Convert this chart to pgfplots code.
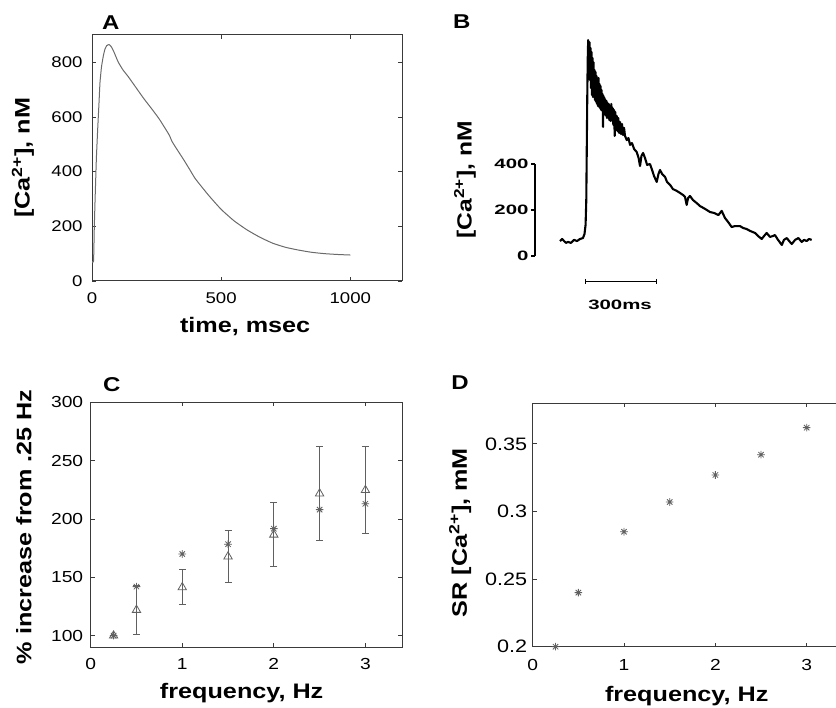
\documentclass[border=0pt]{standalone}
\usepackage{fontspec}
\setmainfont{Liberation Sans}[FakeStretch=1.2]
\newfontfamily\bfam{Liberation Sans}[FakeStretch=1.5]
\usepackage{pgfplots}
\pgfplotsset{compat=1.18}
\usepackage{pgfplotstable}

\definecolor{axgray}{HTML}{3A3A3A}
\definecolor{curvegray}{HTML}{6A6A6A}
\definecolor{markgray}{HTML}{606060}
\newcommand{\fs}[1]{\fontsize{#1bp}{#1bp}\selectfont}

\pgfdeclareplotmark{mstar}{%
  \pgfpathmoveto{\pgfqpoint{-\pgfplotmarksize}{0pt}}%
  \pgfpathlineto{\pgfqpoint{\pgfplotmarksize}{0pt}}%
  \pgfpathmoveto{\pgfqpoint{0pt}{-\pgfplotmarksize}}%
  \pgfpathlineto{\pgfqpoint{0pt}{\pgfplotmarksize}}%
  \pgfpathmoveto{\pgfqpoint{-0.707\pgfplotmarksize}{-0.707\pgfplotmarksize}}%
  \pgfpathlineto{\pgfqpoint{0.707\pgfplotmarksize}{0.707\pgfplotmarksize}}%
  \pgfpathmoveto{\pgfqpoint{-0.707\pgfplotmarksize}{0.707\pgfplotmarksize}}%
  \pgfpathlineto{\pgfqpoint{0.707\pgfplotmarksize}{-0.707\pgfplotmarksize}}%
  \pgfusepathqstroke}

\pgfplotstableread{
t ca
0 72
6 72
9 200
12 300
17 450
22 555
27 650
31 727
37 785
44 824
50 848
57 861
66 865
74 858
83 842
92 822
102 800
120 772
140 748
167 712
200 668
231 630
260 593
290 548
300 532
310 510
330 480
354 445
380 405
400 374
450 315
500 262
550 220
600 187
650 160
700 138
750 123
800 113
850 105
900 100
950 97
1000 95
}\modelA

\pgfplotstableread{
t ca
0 65
8.5 74
17 65
25 57
34 61
46 57
59 70
72 65
84.5 74
97 78
103.5 96
108 135
111 243
113 461
115 678
117 852
119 939
122.5 809
124.6 930
126.8 765
129 904
131 730
133.1 887
135.2 700
137.3 861
139.4 691
141.5 843
143.7 713
145.8 809
147.9 678
150 800
152 670
154.2 783
156.3 661
158.4 765
160.6 652
162.7 774
164.8 648
166.9 748
169 643
171.1 739
173.2 635
175.3 722
177.5 643
179.6 704
181.7 561
183.8 696
185.9 626
188 687
190.1 617
192.3 678
194.4 609
196.5 674
198.6 600
200.7 665
202.8 604
205.8 661
208.3 591
211.3 652
214.2 587
216.8 661
219.7 600
222.7 643
225.2 570
228.2 635
231.1 522
233.7 626
236.6 548
239.6 609
242.9 543
246.3 600
249.3 535
253.5 583
257.7 530
262 574
266 526
270.4 557
274.6 522
282 504
289 513
296 483
304 491
313 465
324 452
332 426
338 391
344 435
351 448
359 426
368 396
380 400
389 374
397 348
408.5 322
416 357
422.5 374
431 357
444 343
452 322
465 309
477 291
493 283
507 274
520 265
528 257
535 222
541 252
549 261
562 243
577.5 230
591.5 217
605.5 209
620 200
634 191
651 187
669 178
683 196
697 165
710 148
725 126
739 130
760.5 130
773 122
789 117
803 109
824 100
836.5 87
852 74
862 87
873 100
887 83
900 87
908 91
921 70
937 48
946 70
958 78
968 65
979 52
993 70
1007 78
1021 61
1031 70
1042 65
1052 74
1063 70
}\exptB

\pgfplotstableread{
f y
0.25 100
0.5 142
1 170
1.5 178.4
2 191.7
2.5 208
3 213
}\modelC

\pgfplotstableread{
f y e
0.25 100 0
0.5 122 21
1 141.4 15
1.5 167.8 22
2 186.5 27.5
2.5 221.8 40
3 224.7 37.5
}\exptC

\pgfplotstableread{
f sr
0.25 0.200
0.5 0.240
1 0.285
1.5 0.307
2 0.327
2.5 0.342
3 0.362
}\modelD

\pgfplotsset{
  mstyle/.style={
    scale only axis,
    axis line style={axgray, line width=1bp},
    every tick/.style={axgray, line width=0.8bp},
    major tick length=4bp,
    tick align=inside,
    /pgf/number format/assume math mode=true,
    /pgf/number format/1000 sep={},
    tick label style={font=\fs{15.5}, text=black},
    label style={font=\bfseries\fs{21}},
    scaled ticks=false,
  }
}

\begin{document}
\begin{tikzpicture}[x=1bp,y=1bp]
\useasboundingbox (0,0) rectangle (836,708);

% ---------------- Panel A
\begin{axis}[mstyle, at={(92bp,427bp)}, anchor=south west,
  width=310bp, height=246bp,
  xmin=0, xmax=1200, ymin=0, ymax=900,
  xtick={0,500,1000}, ytick={0,200,400,600,800},
  xticklabel style={yshift=-8bp}, yticklabel style={xshift=-6bp},
  xlabel={time, msec}, ylabel={[Ca\textsuperscript{2+}], nM},
  xlabel style={at={(axis description cs:0.494,-0.2114)}, anchor=base},
  ylabel style={at={(axis description cs:-0.2226,0.5)}, anchor=center}]
\addplot[curvegray, line width=1bp, line join=round, smooth, tension=0.3] table[x=t, y=ca] {\modelA};
\end{axis}
\node[font=\bfseries\fs{20}, anchor=base] at (110.8,678.7) {A};

% ---------------- Panel B
\begin{axis}[at={(560bp,452bp)}, anchor=south west, scale only axis,
  width=260.4bp, height=230bp, xmin=0, xmax=1100, ymin=0, ymax=1000,
  hide axis, clip=false]
\addplot[black, line width=2.1bp, line join=round] table[x=t, y=ca] {\exptB};
\draw[black, line width=1.1bp] (axis cs:108.6,-111.7) -- (axis cs:408.5,-111.7);
\draw[black, line width=1.1bp] (axis cs:108.6,-100) -- (axis cs:108.6,-123);
\draw[black, line width=1.1bp] (axis cs:408.5,-100) -- (axis cs:408.5,-123);
\node[font=\bfam\bfseries\fs{13.6}] at (axis cs:253.5,-213) {300ms};
\end{axis}
\begin{axis}[at={(535bp,452bp)}, anchor=south west, scale only axis,
  width=20bp, height=92bp, xmin=0, xmax=1, ymin=0, ymax=400,
  axis x line=none, axis y line=left,
  axis line style={-, black, line width=1.1bp},
  ytick={0,200,400}, tick align=outside, major tick length=4bp,
  every tick/.style={black, line width=1.1bp},
  /pgf/number format/assume math mode=true,
  yticklabel style={font=\bfam\bfseries\fs{13.6}, xshift=1bp}]
\end{axis}
\node[rotate=90, font=\bfseries\fs{20.5}] at (465,528) {[Ca\textsuperscript{2+}], nM};
\node[font=\bfseries\fs{20}, anchor=base] at (461.7,679.7) {B};

% ---------------- Panel C
\begin{axis}[mstyle, at={(90.7bp,60.7bp)}, anchor=south west,
  width=311.3bp, height=245bp,
  xmin=0, xmax=3.4, ymin=90, ymax=300,
  xtick={0,1,2,3}, ytick={100,150,200,250,300},
  tick label style={font=\fs{16}},
  xticklabel style={yshift=-8bp}, yticklabel style={xshift=-4bp},
  xlabel={frequency, Hz}, ylabel={\% increase from .25 Hz},
  xlabel style={at={(axis description cs:0.485,-0.211)}, anchor=base},
  ylabel style={at={(axis description cs:-0.2143,0.492)}, anchor=center},
  clip=false]
\addplot[only marks, mark=mstar, mark size=3.8bp, markgray, mark options={line width=0.8bp}]
  table[x=f, y=y] {\modelC};
\addplot[only marks, mark=triangle, mark size=4.8bp, markgray, mark options={line width=0.8bp},
  error bars/.cd, y dir=both, y explicit,
  error bar style={markgray, line width=0.8bp},
  error mark options={markgray, mark size=3.5bp, line width=0.8bp, rotate=90}]
  table[x=f, y=y, y error=e] {\exptC};
\end{axis}
\node[font=\bfseries\fs{20}, anchor=base] at (111.7,316.3) {C};

% ---------------- Panel D
\begin{axis}[mstyle, at={(532.7bp,61.3bp)}, anchor=south west,
  width=310.5bp, height=243.4bp,
  xmin=0, xmax=3.4, ymin=0.2, ymax=0.38,
  xtick={0,1,2,3}, ytick={0.2,0.25,0.3,0.35},
  yticklabels={0.2,0.25,0.3,0.35},
  xticklabel style={font=\fs{16}, yshift=-9bp},
  yticklabel style={font=\fs{18}, xshift=-2bp},
  xlabel={frequency, Hz}, ylabel={SR [Ca\textsuperscript{2+}], mM},
  xlabel style={at={(axis description cs:0.496,-0.226)}, anchor=base},
  ylabel style={at={(axis description cs:-0.234,0.469)}, anchor=center},
  clip=false]
\addplot[only marks, mark=mstar, mark size=3.8bp, markgray, mark options={line width=0.8bp}]
  table[x=f, y=sr] {\modelD};
\end{axis}
\node[font=\bfseries\fs{20}, anchor=base] at (460,318) {D};
\end{tikzpicture}
\end{document}
